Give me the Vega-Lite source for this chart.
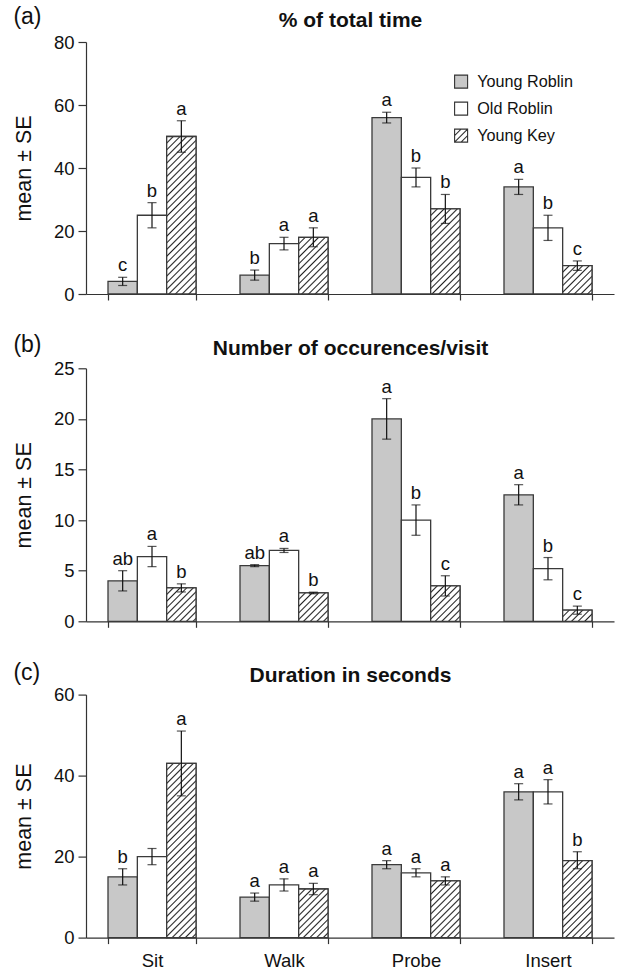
{
"$schema": "https://vega.github.io/schema/vega-lite/v6.json",
"padding": {"left": 13, "top": 6, "right": 4, "bottom": 0},
"config": {"font": "Liberation Sans", "view": {"stroke": null}, "axis": {"domainColor": "#333", "tickColor": "#333", "labelColor": "#111", "titleColor": "#111", "grid": false}, "title": {"color": "#111"}},
"data": {"values": [
{"panel":"a","behavior":"Sit","group":"Young Roblin","mean":4,"lo":2.7,"hi":5.3,"letter":"c"},
{"panel":"a","behavior":"Sit","group":"Old Roblin","mean":25,"lo":21,"hi":29,"letter":"b"},
{"panel":"a","behavior":"Sit","group":"Young Key","mean":50,"lo":45,"hi":55,"letter":"a"},
{"panel":"a","behavior":"Walk","group":"Young Roblin","mean":6,"lo":4.4,"hi":7.6,"letter":"b"},
{"panel":"a","behavior":"Walk","group":"Old Roblin","mean":16,"lo":14,"hi":18,"letter":"a"},
{"panel":"a","behavior":"Walk","group":"Young Key","mean":18,"lo":15,"hi":21,"letter":"a"},
{"panel":"a","behavior":"Probe","group":"Young Roblin","mean":56,"lo":54.3,"hi":57.7,"letter":"a"},
{"panel":"a","behavior":"Probe","group":"Old Roblin","mean":37,"lo":34,"hi":40,"letter":"b"},
{"panel":"a","behavior":"Probe","group":"Young Key","mean":27,"lo":22.4,"hi":31.6,"letter":"b"},
{"panel":"a","behavior":"Insert","group":"Young Roblin","mean":34,"lo":31.6,"hi":36.4,"letter":"a"},
{"panel":"a","behavior":"Insert","group":"Old Roblin","mean":21,"lo":17,"hi":25,"letter":"b"},
{"panel":"a","behavior":"Insert","group":"Young Key","mean":9,"lo":7.5,"hi":10.5,"letter":"c"},
{"panel":"b","behavior":"Sit","group":"Young Roblin","mean":4,"lo":3,"hi":5,"letter":"ab"},
{"panel":"b","behavior":"Sit","group":"Old Roblin","mean":6.4,"lo":5.4,"hi":7.4,"letter":"a"},
{"panel":"b","behavior":"Sit","group":"Young Key","mean":3.3,"lo":2.9,"hi":3.7,"letter":"b"},
{"panel":"b","behavior":"Walk","group":"Young Roblin","mean":5.5,"lo":5.4,"hi":5.6,"letter":"ab"},
{"panel":"b","behavior":"Walk","group":"Old Roblin","mean":7,"lo":6.8,"hi":7.2,"letter":"a"},
{"panel":"b","behavior":"Walk","group":"Young Key","mean":2.8,"lo":2.72,"hi":2.88,"letter":"b"},
{"panel":"b","behavior":"Probe","group":"Young Roblin","mean":20,"lo":18,"hi":22,"letter":"a"},
{"panel":"b","behavior":"Probe","group":"Old Roblin","mean":10,"lo":8.5,"hi":11.5,"letter":"b"},
{"panel":"b","behavior":"Probe","group":"Young Key","mean":3.5,"lo":2.5,"hi":4.5,"letter":"c"},
{"panel":"b","behavior":"Insert","group":"Young Roblin","mean":12.5,"lo":11.5,"hi":13.5,"letter":"a"},
{"panel":"b","behavior":"Insert","group":"Old Roblin","mean":5.2,"lo":4.1,"hi":6.3,"letter":"b"},
{"panel":"b","behavior":"Insert","group":"Young Key","mean":1.1,"lo":0.7,"hi":1.5,"letter":"c"},
{"panel":"c","behavior":"Sit","group":"Young Roblin","mean":15,"lo":13,"hi":17,"letter":"b"},
{"panel":"c","behavior":"Sit","group":"Old Roblin","mean":20,"lo":18,"hi":22,"letter":""},
{"panel":"c","behavior":"Sit","group":"Young Key","mean":43,"lo":35,"hi":51,"letter":"a"},
{"panel":"c","behavior":"Walk","group":"Young Roblin","mean":10,"lo":9,"hi":11,"letter":"a"},
{"panel":"c","behavior":"Walk","group":"Old Roblin","mean":13,"lo":11.5,"hi":14.5,"letter":"a"},
{"panel":"c","behavior":"Walk","group":"Young Key","mean":12,"lo":10.6,"hi":13.4,"letter":"a"},
{"panel":"c","behavior":"Probe","group":"Young Roblin","mean":18,"lo":17,"hi":19,"letter":"a"},
{"panel":"c","behavior":"Probe","group":"Old Roblin","mean":16,"lo":15,"hi":17,"letter":"a"},
{"panel":"c","behavior":"Probe","group":"Young Key","mean":14,"lo":13,"hi":15,"letter":"a"},
{"panel":"c","behavior":"Insert","group":"Young Roblin","mean":36,"lo":34,"hi":38,"letter":"a"},
{"panel":"c","behavior":"Insert","group":"Old Roblin","mean":36,"lo":33,"hi":39,"letter":"a"},
{"panel":"c","behavior":"Insert","group":"Young Key","mean":19,"lo":17,"hi":21.2,"letter":"b"}
]},
"spacing": 30.3,
"resolve": {"scale": {"fill": "independent", "x": "independent", "y": "independent", "xOffset": "independent"}},
"vconcat": [
{
"width": 528, "height": 252,
"title": {"text": "(a)", "anchor": "start", "frame": "bounds", "fontSize": 23, "fontWeight": "normal", "offset": -20},
"transform": [{"filter": "datum.panel == 'a'"}],
"layer": [
{
"encoding": {
"x": {"field": "behavior", "type": "nominal", "scale": {"domain": ["Sit","Walk","Probe","Insert"], "paddingInner": 0.3333, "paddingOuter": 0.1667}, "axis": {"orient": "bottom", "title": null, "labels": false, "tickBand": "extent", "tickSize": 6, "domainWidth": 1.2, "tickWidth": 1.2}},
"xOffset": {"field": "group", "type": "nominal", "scale": {"domain": ["Young Roblin","Old Roblin","Young Key"], "paddingInner": 0, "paddingOuter": 0}},
"y": {"field": "mean", "type": "quantitative", "title": "mean ± SE", "scale": {"domain": [0, 80], "nice": false}, "axis": {"values": [0,20,40,60,80], "tickSize": 8, "labelFontSize": 18.5, "labelPadding": 4, "titleFontSize": 21.5, "titleFontWeight": "normal", "titlePadding": 18, "domainWidth": 1.2, "tickWidth": 1.2}}
},
"layer": [
{"mark": {"type": "bar", "stroke": "#3a3a3a", "strokeWidth": 1.3}, "encoding": {"fill": {"field": "group", "type": "nominal", "scale": {"domain": ["Young Roblin","Old Roblin","Young Key"], "range": ["#c8c8c8","#ffffff","#ffffff"]}, "legend": {"title": null, "orient": "none", "legendX": 367, "legendY": 31.5, "padding": 0, "rowPadding": 9, "labelOffset": 8, "labelFontSize": 16.2, "labelColor": "#111", "symbolType": "square", "symbolSize": 169, "symbolStrokeColor": "#333", "symbolStrokeWidth": 1, "encode": {"symbols": {"update": {"stroke": {"value": "#333"}, "strokeWidth": {"value": 1.1}, "opacity": {"value": 1}, "shape": [{"test": "datum.value == 'Young Key'", "value": "M-1,-1H1V1H-1Z M-1,0L0,-1 M-1,1L1,-1 M0,1L1,0"}, {"value": "square"}]}}}}}}},
{"transform": [{"filter": "datum.group == 'Young Key' && datum.behavior == 'Sit'"}], "mark": {"type": "bar", "stroke": "#3a3a3a", "strokeWidth": 1.3, "fill": {"gradient": "linear", "x1": 0, "y1": 0, "x2": 0.2432, "y2": 1.3059, "stops": [{"offset":0,"color":"#fff"},
{"offset":0.024,"color":"#fff"},{"offset":0.031,"color":"#222"},{"offset":0.038,"color":"#fff"},
{"offset":0.056,"color":"#fff"},{"offset":0.063,"color":"#222"},{"offset":0.07,"color":"#fff"},
{"offset":0.087,"color":"#fff"},{"offset":0.094,"color":"#222"},{"offset":0.101,"color":"#fff"},
{"offset":0.118,"color":"#fff"},{"offset":0.125,"color":"#222"},{"offset":0.132,"color":"#fff"},
{"offset":0.149,"color":"#fff"},{"offset":0.156,"color":"#222"},{"offset":0.163,"color":"#fff"},
{"offset":0.181,"color":"#fff"},{"offset":0.188,"color":"#222"},{"offset":0.195,"color":"#fff"},
{"offset":0.212,"color":"#fff"},{"offset":0.219,"color":"#222"},{"offset":0.226,"color":"#fff"},
{"offset":0.243,"color":"#fff"},{"offset":0.25,"color":"#222"},{"offset":0.257,"color":"#fff"},
{"offset":0.274,"color":"#fff"},{"offset":0.281,"color":"#222"},{"offset":0.288,"color":"#fff"},
{"offset":0.306,"color":"#fff"},{"offset":0.313,"color":"#222"},{"offset":0.32,"color":"#fff"},
{"offset":0.337,"color":"#fff"},{"offset":0.344,"color":"#222"},{"offset":0.351,"color":"#fff"},
{"offset":0.368,"color":"#fff"},{"offset":0.375,"color":"#222"},{"offset":0.382,"color":"#fff"},
{"offset":0.399,"color":"#fff"},{"offset":0.406,"color":"#222"},{"offset":0.413,"color":"#fff"},
{"offset":0.431,"color":"#fff"},{"offset":0.438,"color":"#222"},{"offset":0.445,"color":"#fff"},
{"offset":0.462,"color":"#fff"},{"offset":0.469,"color":"#222"},{"offset":0.476,"color":"#fff"},
{"offset":0.493,"color":"#fff"},{"offset":0.5,"color":"#222"},{"offset":0.507,"color":"#fff"},
{"offset":0.524,"color":"#fff"},{"offset":0.531,"color":"#222"},{"offset":0.538,"color":"#fff"},
{"offset":0.556,"color":"#fff"},{"offset":0.563,"color":"#222"},{"offset":0.57,"color":"#fff"},
{"offset":0.587,"color":"#fff"},{"offset":0.594,"color":"#222"},{"offset":0.601,"color":"#fff"},
{"offset":0.618,"color":"#fff"},{"offset":0.625,"color":"#222"},{"offset":0.632,"color":"#fff"},
{"offset":0.649,"color":"#fff"},{"offset":0.656,"color":"#222"},{"offset":0.663,"color":"#fff"},
{"offset":0.681,"color":"#fff"},{"offset":0.688,"color":"#222"},{"offset":0.695,"color":"#fff"},
{"offset":0.712,"color":"#fff"},{"offset":0.719,"color":"#222"},{"offset":0.726,"color":"#fff"},
{"offset":0.743,"color":"#fff"},{"offset":0.75,"color":"#222"},{"offset":0.757,"color":"#fff"},
{"offset":0.774,"color":"#fff"},{"offset":0.781,"color":"#222"},{"offset":0.788,"color":"#fff"},
{"offset":0.806,"color":"#fff"},{"offset":0.813,"color":"#222"},{"offset":0.82,"color":"#fff"},
{"offset":0.837,"color":"#fff"},{"offset":0.844,"color":"#222"},{"offset":0.851,"color":"#fff"},
{"offset":0.868,"color":"#fff"},{"offset":0.875,"color":"#222"},{"offset":0.882,"color":"#fff"}]}}},
{"transform": [{"filter": "datum.group == 'Young Key' && datum.behavior == 'Walk'"}], "mark": {"type": "bar", "stroke": "#3a3a3a", "strokeWidth": 1.3, "fill": {"gradient": "linear", "x1": 0, "y1": 0, "x2": 1.5316, "y2": 2.9608, "stops": [{"offset":0,"color":"#fff"},
{"offset":0.024,"color":"#fff"},{"offset":0.031,"color":"#222"},{"offset":0.038,"color":"#fff"},
{"offset":0.056,"color":"#fff"},{"offset":0.063,"color":"#222"},{"offset":0.07,"color":"#fff"},
{"offset":0.087,"color":"#fff"},{"offset":0.094,"color":"#222"},{"offset":0.101,"color":"#fff"},
{"offset":0.118,"color":"#fff"},{"offset":0.125,"color":"#222"},{"offset":0.132,"color":"#fff"},
{"offset":0.149,"color":"#fff"},{"offset":0.156,"color":"#222"},{"offset":0.163,"color":"#fff"},
{"offset":0.181,"color":"#fff"},{"offset":0.188,"color":"#222"},{"offset":0.195,"color":"#fff"},
{"offset":0.212,"color":"#fff"},{"offset":0.219,"color":"#222"},{"offset":0.226,"color":"#fff"},
{"offset":0.243,"color":"#fff"},{"offset":0.25,"color":"#222"},{"offset":0.257,"color":"#fff"},
{"offset":0.274,"color":"#fff"},{"offset":0.281,"color":"#222"},{"offset":0.288,"color":"#fff"},
{"offset":0.306,"color":"#fff"},{"offset":0.313,"color":"#222"},{"offset":0.32,"color":"#fff"},
{"offset":0.337,"color":"#fff"},{"offset":0.344,"color":"#222"},{"offset":0.351,"color":"#fff"},
{"offset":0.368,"color":"#fff"},{"offset":0.375,"color":"#222"},{"offset":0.382,"color":"#fff"}]}}},
{"transform": [{"filter": "datum.group == 'Young Key' && datum.behavior == 'Probe'"}], "mark": {"type": "bar", "stroke": "#3a3a3a", "strokeWidth": 1.3, "fill": {"gradient": "linear", "x1": 0, "y1": 0, "x2": 0.7711, "y2": 2.2361, "stops": [{"offset":0,"color":"#fff"},
{"offset":0.024,"color":"#fff"},{"offset":0.031,"color":"#222"},{"offset":0.038,"color":"#fff"},
{"offset":0.056,"color":"#fff"},{"offset":0.063,"color":"#222"},{"offset":0.07,"color":"#fff"},
{"offset":0.087,"color":"#fff"},{"offset":0.094,"color":"#222"},{"offset":0.101,"color":"#fff"},
{"offset":0.118,"color":"#fff"},{"offset":0.125,"color":"#222"},{"offset":0.132,"color":"#fff"},
{"offset":0.149,"color":"#fff"},{"offset":0.156,"color":"#222"},{"offset":0.163,"color":"#fff"},
{"offset":0.181,"color":"#fff"},{"offset":0.188,"color":"#222"},{"offset":0.195,"color":"#fff"},
{"offset":0.212,"color":"#fff"},{"offset":0.219,"color":"#222"},{"offset":0.226,"color":"#fff"},
{"offset":0.243,"color":"#fff"},{"offset":0.25,"color":"#222"},{"offset":0.257,"color":"#fff"},
{"offset":0.274,"color":"#fff"},{"offset":0.281,"color":"#222"},{"offset":0.288,"color":"#fff"},
{"offset":0.306,"color":"#fff"},{"offset":0.313,"color":"#222"},{"offset":0.32,"color":"#fff"},
{"offset":0.337,"color":"#fff"},{"offset":0.344,"color":"#222"},{"offset":0.351,"color":"#fff"},
{"offset":0.368,"color":"#fff"},{"offset":0.375,"color":"#222"},{"offset":0.382,"color":"#fff"},
{"offset":0.399,"color":"#fff"},{"offset":0.406,"color":"#222"},{"offset":0.413,"color":"#fff"},
{"offset":0.431,"color":"#fff"},{"offset":0.438,"color":"#222"},{"offset":0.445,"color":"#fff"},
{"offset":0.462,"color":"#fff"},{"offset":0.469,"color":"#222"},{"offset":0.476,"color":"#fff"},
{"offset":0.493,"color":"#fff"},{"offset":0.5,"color":"#222"},{"offset":0.507,"color":"#fff"},
{"offset":0.524,"color":"#fff"},{"offset":0.531,"color":"#222"},{"offset":0.538,"color":"#fff"}]}}},
{"transform": [{"filter": "datum.group == 'Young Key' && datum.behavior == 'Insert'"}], "mark": {"type": "bar", "stroke": "#3a3a3a", "strokeWidth": 1.3, "fill": {"gradient": "linear", "x1": 0, "y1": 0, "x2": 3.7508, "y2": 3.6255, "stops": [{"offset":0,"color":"#fff"},
{"offset":0.024,"color":"#fff"},{"offset":0.031,"color":"#222"},{"offset":0.038,"color":"#fff"},
{"offset":0.056,"color":"#fff"},{"offset":0.063,"color":"#222"},{"offset":0.07,"color":"#fff"},
{"offset":0.087,"color":"#fff"},{"offset":0.094,"color":"#222"},{"offset":0.101,"color":"#fff"},
{"offset":0.118,"color":"#fff"},{"offset":0.125,"color":"#222"},{"offset":0.132,"color":"#fff"},
{"offset":0.149,"color":"#fff"},{"offset":0.156,"color":"#222"},{"offset":0.163,"color":"#fff"},
{"offset":0.181,"color":"#fff"},{"offset":0.188,"color":"#222"},{"offset":0.195,"color":"#fff"},
{"offset":0.212,"color":"#fff"},{"offset":0.219,"color":"#222"},{"offset":0.226,"color":"#fff"},
{"offset":0.243,"color":"#fff"},{"offset":0.25,"color":"#222"},{"offset":0.257,"color":"#fff"}]}}},
{"mark": {"type": "rule", "color": "#111", "strokeWidth": 1.2}, "encoding": {"y": {"field": "lo", "type": "quantitative", "title": "mean ± SE"}, "y2": {"field": "hi"}}},
{"mark": {"type": "tick", "color": "#111", "thickness": 1.2, "size": 9}, "encoding": {"y": {"field": "lo", "type": "quantitative", "title": "mean ± SE"}}},
{"mark": {"type": "tick", "color": "#111", "thickness": 1.2, "size": 9}, "encoding": {"y": {"field": "hi", "type": "quantitative", "title": "mean ± SE"}}}
]
},
{
"mark": {"type": "text", "baseline": "alphabetic", "dy": -6, "fontSize": 18.5, "color": "#111"},
"encoding": {
"x": {"field": "behavior", "type": "nominal", "scale": {"domain": ["Sit","Walk","Probe","Insert"], "paddingInner": 0.3333, "paddingOuter": 0.1667}, "axis": {"orient": "top", "title": "% of total time", "labels": false, "ticks": false, "domain": false, "titleFontSize": 21, "titleFontWeight": "bold", "titlePadding": 12}},
"xOffset": {"field": "group", "type": "nominal", "scale": {"domain": ["Young Roblin","Old Roblin","Young Key"], "paddingInner": 0, "paddingOuter": 0}},
"y": {"field": "hi", "type": "quantitative", "title": "mean ± SE", "scale": {"domain": [0, 80], "nice": false}},
"text": {"field": "letter"}
}
}
],
"resolve": {"axis": {"x": "independent"}}
},
{
"width": 528, "height": 253,
"title": {"text": "(b)", "anchor": "start", "frame": "bounds", "fontSize": 23, "fontWeight": "normal", "offset": -20},
"transform": [{"filter": "datum.panel == 'b'"}],
"layer": [
{
"encoding": {
"x": {"field": "behavior", "type": "nominal", "scale": {"domain": ["Sit","Walk","Probe","Insert"], "paddingInner": 0.3333, "paddingOuter": 0.1667}, "axis": {"orient": "bottom", "title": null, "labels": false, "tickBand": "extent", "tickSize": 6, "domainWidth": 1.2, "tickWidth": 1.2}},
"xOffset": {"field": "group", "type": "nominal", "scale": {"domain": ["Young Roblin","Old Roblin","Young Key"], "paddingInner": 0, "paddingOuter": 0}},
"y": {"field": "mean", "type": "quantitative", "title": "mean ± SE", "scale": {"domain": [0, 25], "nice": false}, "axis": {"values": [0,5,10,15,20,25], "tickSize": 8, "labelFontSize": 18.5, "labelPadding": 4, "titleFontSize": 21.5, "titleFontWeight": "normal", "titlePadding": 18, "domainWidth": 1.2, "tickWidth": 1.2}}
},
"layer": [
{"mark": {"type": "bar", "stroke": "#3a3a3a", "strokeWidth": 1.3}, "encoding": {"fill": {"field": "group", "type": "nominal", "scale": {"domain": ["Young Roblin","Old Roblin","Young Key"], "range": ["#c8c8c8","#ffffff","#ffffff"]}, "legend": null}}},
{"transform": [{"filter": "datum.group == 'Young Key' && datum.behavior == 'Sit'"}], "mark": {"type": "bar", "stroke": "#3a3a3a", "strokeWidth": 1.3, "fill": {"gradient": "linear", "x1": 0, "y1": 0, "x2": 3.1588, "y2": 3.5971, "stops": [{"offset":0,"color":"#fff"},
{"offset":0.024,"color":"#fff"},{"offset":0.031,"color":"#222"},{"offset":0.038,"color":"#fff"},
{"offset":0.056,"color":"#fff"},{"offset":0.063,"color":"#222"},{"offset":0.07,"color":"#fff"},
{"offset":0.087,"color":"#fff"},{"offset":0.094,"color":"#222"},{"offset":0.101,"color":"#fff"},
{"offset":0.118,"color":"#fff"},{"offset":0.125,"color":"#222"},{"offset":0.132,"color":"#fff"},
{"offset":0.149,"color":"#fff"},{"offset":0.156,"color":"#222"},{"offset":0.163,"color":"#fff"},
{"offset":0.181,"color":"#fff"},{"offset":0.188,"color":"#222"},{"offset":0.195,"color":"#fff"},
{"offset":0.212,"color":"#fff"},{"offset":0.219,"color":"#222"},{"offset":0.226,"color":"#fff"},
{"offset":0.243,"color":"#fff"},{"offset":0.25,"color":"#222"},{"offset":0.257,"color":"#fff"},
{"offset":0.274,"color":"#fff"},{"offset":0.281,"color":"#222"},{"offset":0.288,"color":"#fff"}]}}},
{"transform": [{"filter": "datum.group == 'Young Key' && datum.behavior == 'Walk'"}], "mark": {"type": "bar", "stroke": "#3a3a3a", "strokeWidth": 1.3, "fill": {"gradient": "linear", "x1": 0, "y1": 0, "x2": 3.7522, "y2": 3.6256, "stops": [{"offset":0,"color":"#fff"},
{"offset":0.024,"color":"#fff"},{"offset":0.031,"color":"#222"},{"offset":0.038,"color":"#fff"},
{"offset":0.056,"color":"#fff"},{"offset":0.063,"color":"#222"},{"offset":0.07,"color":"#fff"},
{"offset":0.087,"color":"#fff"},{"offset":0.094,"color":"#222"},{"offset":0.101,"color":"#fff"},
{"offset":0.118,"color":"#fff"},{"offset":0.125,"color":"#222"},{"offset":0.132,"color":"#fff"},
{"offset":0.149,"color":"#fff"},{"offset":0.156,"color":"#222"},{"offset":0.163,"color":"#fff"},
{"offset":0.181,"color":"#fff"},{"offset":0.188,"color":"#222"},{"offset":0.195,"color":"#fff"},
{"offset":0.212,"color":"#fff"},{"offset":0.219,"color":"#222"},{"offset":0.226,"color":"#fff"},
{"offset":0.243,"color":"#fff"},{"offset":0.25,"color":"#222"},{"offset":0.257,"color":"#fff"}]}}},
{"transform": [{"filter": "datum.group == 'Young Key' && datum.behavior == 'Probe'"}], "mark": {"type": "bar", "stroke": "#3a3a3a", "strokeWidth": 1.3, "fill": {"gradient": "linear", "x1": 0, "y1": 0, "x2": 2.9512, "y2": 3.564, "stops": [{"offset":0,"color":"#fff"},
{"offset":0.024,"color":"#fff"},{"offset":0.031,"color":"#222"},{"offset":0.038,"color":"#fff"},
{"offset":0.056,"color":"#fff"},{"offset":0.063,"color":"#222"},{"offset":0.07,"color":"#fff"},
{"offset":0.087,"color":"#fff"},{"offset":0.094,"color":"#222"},{"offset":0.101,"color":"#fff"},
{"offset":0.118,"color":"#fff"},{"offset":0.125,"color":"#222"},{"offset":0.132,"color":"#fff"},
{"offset":0.149,"color":"#fff"},{"offset":0.156,"color":"#222"},{"offset":0.163,"color":"#fff"},
{"offset":0.181,"color":"#fff"},{"offset":0.188,"color":"#222"},{"offset":0.195,"color":"#fff"},
{"offset":0.212,"color":"#fff"},{"offset":0.219,"color":"#222"},{"offset":0.226,"color":"#fff"},
{"offset":0.243,"color":"#fff"},{"offset":0.25,"color":"#222"},{"offset":0.257,"color":"#fff"},
{"offset":0.274,"color":"#fff"},{"offset":0.281,"color":"#222"},{"offset":0.288,"color":"#fff"}]}}},
{"transform": [{"filter": "datum.group == 'Young Key' && datum.behavior == 'Insert'"}], "mark": {"type": "bar", "stroke": "#3a3a3a", "strokeWidth": 1.3, "fill": {"gradient": "linear", "x1": 0, "y1": 0, "x2": 6.3416, "y2": 2.4065, "stops": [{"offset":0,"color":"#fff"},
{"offset":0.024,"color":"#fff"},{"offset":0.031,"color":"#222"},{"offset":0.038,"color":"#fff"},
{"offset":0.056,"color":"#fff"},{"offset":0.063,"color":"#222"},{"offset":0.07,"color":"#fff"},
{"offset":0.087,"color":"#fff"},{"offset":0.094,"color":"#222"},{"offset":0.101,"color":"#fff"},
{"offset":0.118,"color":"#fff"},{"offset":0.125,"color":"#222"},{"offset":0.132,"color":"#fff"},
{"offset":0.149,"color":"#fff"},{"offset":0.156,"color":"#222"},{"offset":0.163,"color":"#fff"},
{"offset":0.181,"color":"#fff"},{"offset":0.188,"color":"#222"},{"offset":0.195,"color":"#fff"}]}}},
{"mark": {"type": "rule", "color": "#111", "strokeWidth": 1.2}, "encoding": {"y": {"field": "lo", "type": "quantitative", "title": "mean ± SE"}, "y2": {"field": "hi"}}},
{"mark": {"type": "tick", "color": "#111", "thickness": 1.2, "size": 9}, "encoding": {"y": {"field": "lo", "type": "quantitative", "title": "mean ± SE"}}},
{"mark": {"type": "tick", "color": "#111", "thickness": 1.2, "size": 9}, "encoding": {"y": {"field": "hi", "type": "quantitative", "title": "mean ± SE"}}}
]
},
{
"mark": {"type": "text", "baseline": "alphabetic", "dy": -6, "fontSize": 18.5, "color": "#111"},
"encoding": {
"x": {"field": "behavior", "type": "nominal", "scale": {"domain": ["Sit","Walk","Probe","Insert"], "paddingInner": 0.3333, "paddingOuter": 0.1667}, "axis": {"orient": "top", "title": "Number of occurences/visit", "labels": false, "ticks": false, "domain": false, "titleFontSize": 21, "titleFontWeight": "bold", "titlePadding": 10}},
"xOffset": {"field": "group", "type": "nominal", "scale": {"domain": ["Young Roblin","Old Roblin","Young Key"], "paddingInner": 0, "paddingOuter": 0}},
"y": {"field": "hi", "type": "quantitative", "title": "mean ± SE", "scale": {"domain": [0, 25], "nice": false}},
"text": {"field": "letter"}
}
}
],
"resolve": {"axis": {"x": "independent"}}
},
{
"width": 528, "height": 243,
"title": {"text": "(c)", "anchor": "start", "frame": "bounds", "fontSize": 23, "fontWeight": "normal", "offset": -20},
"transform": [{"filter": "datum.panel == 'c'"}],
"layer": [
{
"encoding": {
"x": {"field": "behavior", "type": "nominal", "scale": {"domain": ["Sit","Walk","Probe","Insert"], "paddingInner": 0.3333, "paddingOuter": 0.1667}, "axis": {"orient": "bottom", "title": null, "labelAngle": 0, "labelFontSize": 18.5, "labelPadding": 8, "tickBand": "extent", "tickSize": 6, "domainWidth": 1.2, "tickWidth": 1.2}},
"xOffset": {"field": "group", "type": "nominal", "scale": {"domain": ["Young Roblin","Old Roblin","Young Key"], "paddingInner": 0, "paddingOuter": 0}},
"y": {"field": "mean", "type": "quantitative", "title": "mean ± SE", "scale": {"domain": [0, 60], "nice": false}, "axis": {"values": [0,20,40,60], "tickSize": 8, "labelFontSize": 18.5, "labelPadding": 4, "titleFontSize": 21.5, "titleFontWeight": "normal", "titlePadding": 18, "domainWidth": 1.2, "tickWidth": 1.2}}
},
"layer": [
{"mark": {"type": "bar", "stroke": "#3a3a3a", "strokeWidth": 1.3}, "encoding": {"fill": {"field": "group", "type": "nominal", "scale": {"domain": ["Young Roblin","Old Roblin","Young Key"], "range": ["#c8c8c8","#ffffff","#ffffff"]}, "legend": null}}},
{"transform": [{"filter": "datum.group == 'Young Key' && datum.behavior == 'Sit'"}], "mark": {"type": "bar", "stroke": "#3a3a3a", "strokeWidth": 1.3, "fill": {"gradient": "linear", "x1": 0, "y1": 0, "x2": 0.2001, "y2": 1.1883, "stops": [{"offset":0,"color":"#fff"},
{"offset":0.024,"color":"#fff"},{"offset":0.031,"color":"#222"},{"offset":0.038,"color":"#fff"},
{"offset":0.056,"color":"#fff"},{"offset":0.063,"color":"#222"},{"offset":0.07,"color":"#fff"},
{"offset":0.087,"color":"#fff"},{"offset":0.094,"color":"#222"},{"offset":0.101,"color":"#fff"},
{"offset":0.118,"color":"#fff"},{"offset":0.125,"color":"#222"},{"offset":0.132,"color":"#fff"},
{"offset":0.149,"color":"#fff"},{"offset":0.156,"color":"#222"},{"offset":0.163,"color":"#fff"},
{"offset":0.181,"color":"#fff"},{"offset":0.188,"color":"#222"},{"offset":0.195,"color":"#fff"},
{"offset":0.212,"color":"#fff"},{"offset":0.219,"color":"#222"},{"offset":0.226,"color":"#fff"},
{"offset":0.243,"color":"#fff"},{"offset":0.25,"color":"#222"},{"offset":0.257,"color":"#fff"},
{"offset":0.274,"color":"#fff"},{"offset":0.281,"color":"#222"},{"offset":0.288,"color":"#fff"},
{"offset":0.306,"color":"#fff"},{"offset":0.313,"color":"#222"},{"offset":0.32,"color":"#fff"},
{"offset":0.337,"color":"#fff"},{"offset":0.344,"color":"#222"},{"offset":0.351,"color":"#fff"},
{"offset":0.368,"color":"#fff"},{"offset":0.375,"color":"#222"},{"offset":0.382,"color":"#fff"},
{"offset":0.399,"color":"#fff"},{"offset":0.406,"color":"#222"},{"offset":0.413,"color":"#fff"},
{"offset":0.431,"color":"#fff"},{"offset":0.438,"color":"#222"},{"offset":0.445,"color":"#fff"},
{"offset":0.462,"color":"#fff"},{"offset":0.469,"color":"#222"},{"offset":0.476,"color":"#fff"},
{"offset":0.493,"color":"#fff"},{"offset":0.5,"color":"#222"},{"offset":0.507,"color":"#fff"},
{"offset":0.524,"color":"#fff"},{"offset":0.531,"color":"#222"},{"offset":0.538,"color":"#fff"},
{"offset":0.556,"color":"#fff"},{"offset":0.563,"color":"#222"},{"offset":0.57,"color":"#fff"},
{"offset":0.587,"color":"#fff"},{"offset":0.594,"color":"#222"},{"offset":0.601,"color":"#fff"},
{"offset":0.618,"color":"#fff"},{"offset":0.625,"color":"#222"},{"offset":0.632,"color":"#fff"},
{"offset":0.649,"color":"#fff"},{"offset":0.656,"color":"#222"},{"offset":0.663,"color":"#fff"},
{"offset":0.681,"color":"#fff"},{"offset":0.688,"color":"#222"},{"offset":0.695,"color":"#fff"},
{"offset":0.712,"color":"#fff"},{"offset":0.719,"color":"#222"},{"offset":0.726,"color":"#fff"},
{"offset":0.743,"color":"#fff"},{"offset":0.75,"color":"#222"},{"offset":0.757,"color":"#fff"},
{"offset":0.774,"color":"#fff"},{"offset":0.781,"color":"#222"},{"offset":0.788,"color":"#fff"},
{"offset":0.806,"color":"#fff"},{"offset":0.813,"color":"#222"},{"offset":0.82,"color":"#fff"},
{"offset":0.837,"color":"#fff"},{"offset":0.844,"color":"#222"},{"offset":0.851,"color":"#fff"},
{"offset":0.868,"color":"#fff"},{"offset":0.875,"color":"#222"},{"offset":0.882,"color":"#fff"},
{"offset":0.899,"color":"#fff"},{"offset":0.906,"color":"#222"},{"offset":0.913,"color":"#fff"},
{"offset":0.931,"color":"#fff"},{"offset":0.938,"color":"#222"},{"offset":0.945,"color":"#fff"}]}}},
{"transform": [{"filter": "datum.group == 'Young Key' && datum.behavior == 'Walk'"}], "mark": {"type": "bar", "stroke": "#3a3a3a", "strokeWidth": 1.3, "fill": {"gradient": "linear", "x1": 0, "y1": 0, "x2": 1.9369, "y2": 3.2096, "stops": [{"offset":0,"color":"#fff"},
{"offset":0.024,"color":"#fff"},{"offset":0.031,"color":"#222"},{"offset":0.038,"color":"#fff"},
{"offset":0.056,"color":"#fff"},{"offset":0.063,"color":"#222"},{"offset":0.07,"color":"#fff"},
{"offset":0.087,"color":"#fff"},{"offset":0.094,"color":"#222"},{"offset":0.101,"color":"#fff"},
{"offset":0.118,"color":"#fff"},{"offset":0.125,"color":"#222"},{"offset":0.132,"color":"#fff"},
{"offset":0.149,"color":"#fff"},{"offset":0.156,"color":"#222"},{"offset":0.163,"color":"#fff"},
{"offset":0.181,"color":"#fff"},{"offset":0.188,"color":"#222"},{"offset":0.195,"color":"#fff"},
{"offset":0.212,"color":"#fff"},{"offset":0.219,"color":"#222"},{"offset":0.226,"color":"#fff"},
{"offset":0.243,"color":"#fff"},{"offset":0.25,"color":"#222"},{"offset":0.257,"color":"#fff"},
{"offset":0.274,"color":"#fff"},{"offset":0.281,"color":"#222"},{"offset":0.288,"color":"#fff"},
{"offset":0.306,"color":"#fff"},{"offset":0.313,"color":"#222"},{"offset":0.32,"color":"#fff"},
{"offset":0.337,"color":"#fff"},{"offset":0.344,"color":"#222"},{"offset":0.351,"color":"#fff"}]}}},
{"transform": [{"filter": "datum.group == 'Young Key' && datum.behavior == 'Probe'"}], "mark": {"type": "bar", "stroke": "#3a3a3a", "strokeWidth": 1.3, "fill": {"gradient": "linear", "x1": 0, "y1": 0, "x2": 1.5316, "y2": 2.9608, "stops": [{"offset":0,"color":"#fff"},
{"offset":0.024,"color":"#fff"},{"offset":0.031,"color":"#222"},{"offset":0.038,"color":"#fff"},
{"offset":0.056,"color":"#fff"},{"offset":0.063,"color":"#222"},{"offset":0.07,"color":"#fff"},
{"offset":0.087,"color":"#fff"},{"offset":0.094,"color":"#222"},{"offset":0.101,"color":"#fff"},
{"offset":0.118,"color":"#fff"},{"offset":0.125,"color":"#222"},{"offset":0.132,"color":"#fff"},
{"offset":0.149,"color":"#fff"},{"offset":0.156,"color":"#222"},{"offset":0.163,"color":"#fff"},
{"offset":0.181,"color":"#fff"},{"offset":0.188,"color":"#222"},{"offset":0.195,"color":"#fff"},
{"offset":0.212,"color":"#fff"},{"offset":0.219,"color":"#222"},{"offset":0.226,"color":"#fff"},
{"offset":0.243,"color":"#fff"},{"offset":0.25,"color":"#222"},{"offset":0.257,"color":"#fff"},
{"offset":0.274,"color":"#fff"},{"offset":0.281,"color":"#222"},{"offset":0.288,"color":"#fff"},
{"offset":0.306,"color":"#fff"},{"offset":0.313,"color":"#222"},{"offset":0.32,"color":"#fff"},
{"offset":0.337,"color":"#fff"},{"offset":0.344,"color":"#222"},{"offset":0.351,"color":"#fff"},
{"offset":0.368,"color":"#fff"},{"offset":0.375,"color":"#222"},{"offset":0.382,"color":"#fff"}]}}},
{"transform": [{"filter": "datum.group == 'Young Key' && datum.behavior == 'Insert'"}], "mark": {"type": "bar", "stroke": "#3a3a3a", "strokeWidth": 1.3, "fill": {"gradient": "linear", "x1": 0, "y1": 0, "x2": 0.9203, "y2": 2.4146, "stops": [{"offset":0,"color":"#fff"},
{"offset":0.024,"color":"#fff"},{"offset":0.031,"color":"#222"},{"offset":0.038,"color":"#fff"},
{"offset":0.056,"color":"#fff"},{"offset":0.063,"color":"#222"},{"offset":0.07,"color":"#fff"},
{"offset":0.087,"color":"#fff"},{"offset":0.094,"color":"#222"},{"offset":0.101,"color":"#fff"},
{"offset":0.118,"color":"#fff"},{"offset":0.125,"color":"#222"},{"offset":0.132,"color":"#fff"},
{"offset":0.149,"color":"#fff"},{"offset":0.156,"color":"#222"},{"offset":0.163,"color":"#fff"},
{"offset":0.181,"color":"#fff"},{"offset":0.188,"color":"#222"},{"offset":0.195,"color":"#fff"},
{"offset":0.212,"color":"#fff"},{"offset":0.219,"color":"#222"},{"offset":0.226,"color":"#fff"},
{"offset":0.243,"color":"#fff"},{"offset":0.25,"color":"#222"},{"offset":0.257,"color":"#fff"},
{"offset":0.274,"color":"#fff"},{"offset":0.281,"color":"#222"},{"offset":0.288,"color":"#fff"},
{"offset":0.306,"color":"#fff"},{"offset":0.313,"color":"#222"},{"offset":0.32,"color":"#fff"},
{"offset":0.337,"color":"#fff"},{"offset":0.344,"color":"#222"},{"offset":0.351,"color":"#fff"},
{"offset":0.368,"color":"#fff"},{"offset":0.375,"color":"#222"},{"offset":0.382,"color":"#fff"},
{"offset":0.399,"color":"#fff"},{"offset":0.406,"color":"#222"},{"offset":0.413,"color":"#fff"},
{"offset":0.431,"color":"#fff"},{"offset":0.438,"color":"#222"},{"offset":0.445,"color":"#fff"},
{"offset":0.462,"color":"#fff"},{"offset":0.469,"color":"#222"},{"offset":0.476,"color":"#fff"},
{"offset":0.493,"color":"#fff"},{"offset":0.5,"color":"#222"},{"offset":0.507,"color":"#fff"}]}}},
{"mark": {"type": "rule", "color": "#111", "strokeWidth": 1.2}, "encoding": {"y": {"field": "lo", "type": "quantitative", "title": "mean ± SE"}, "y2": {"field": "hi"}}},
{"mark": {"type": "tick", "color": "#111", "thickness": 1.2, "size": 9}, "encoding": {"y": {"field": "lo", "type": "quantitative", "title": "mean ± SE"}}},
{"mark": {"type": "tick", "color": "#111", "thickness": 1.2, "size": 9}, "encoding": {"y": {"field": "hi", "type": "quantitative", "title": "mean ± SE"}}}
]
},
{
"mark": {"type": "text", "baseline": "alphabetic", "dy": -6, "fontSize": 18.5, "color": "#111"},
"encoding": {
"x": {"field": "behavior", "type": "nominal", "scale": {"domain": ["Sit","Walk","Probe","Insert"], "paddingInner": 0.3333, "paddingOuter": 0.1667}, "axis": {"orient": "top", "title": "Duration in seconds", "labels": false, "ticks": false, "domain": false, "titleFontSize": 21, "titleFontWeight": "bold", "titlePadding": 9}},
"xOffset": {"field": "group", "type": "nominal", "scale": {"domain": ["Young Roblin","Old Roblin","Young Key"], "paddingInner": 0, "paddingOuter": 0}},
"y": {"field": "hi", "type": "quantitative", "title": "mean ± SE", "scale": {"domain": [0, 60], "nice": false}},
"text": {"field": "letter"}
}
}
],
"resolve": {"axis": {"x": "independent"}}
}
]
}
